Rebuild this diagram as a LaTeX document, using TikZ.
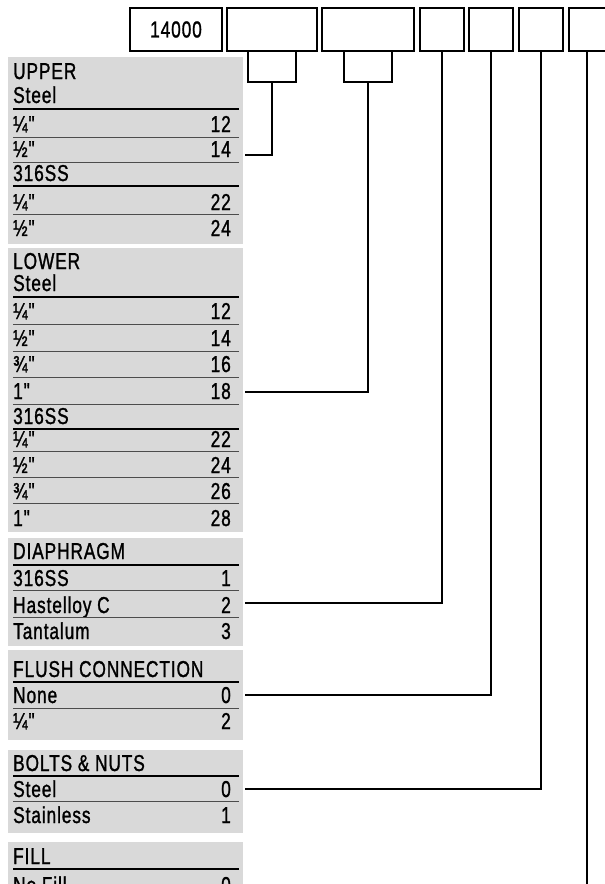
\documentclass[tikz,border=0pt]{standalone}
\usepackage{fontspec}
\setmainfont{Liberation Sans}[FakeStretch=0.75,LetterSpace=4,FakeBold=1.2,Ligatures=TeXOff]
\newcommand\pfont{\fontsize{23}{26}\selectfont}
\newcommand\optrow[4]{%
  \node[lbl] (#1l) at (13,#4) {#2};
  \node[num] (#1n) at (231,#4) {#3};}
\tikzset{
  lbl/.style={anchor=base west, inner sep=0pt, font=\pfont},
  num/.style={anchor=base east, inner sep=0pt, font=\pfont},
  thickrule/.style={line width=2pt},
  thinrule/.style={line width=1pt, black!70},
  panel/.style={fill=black!15, draw=none},
  codebox/.style={draw, line width=2pt, fill=white, inner sep=0pt, font=\pfont, minimum height=43pt},
  subbox/.style={draw, line width=2pt, inner sep=0pt, minimum width=48pt, minimum height=31pt},
  wire/.style={line width=2pt}
}
\begin{document}
\begin{tikzpicture}[x=1pt,y=-1pt]
\useasboundingbox (0,0) rectangle (605,884);
\clip (0,0) rectangle (605,884);
% panels
\fill[panel] (8,57) rectangle (243,244);
\fill[panel] (8,248) rectangle (243,532);
\fill[panel] (8,538) rectangle (243,646);
\fill[panel] (8,650) rectangle (243,740);
\fill[panel] (8,750) rectangle (243,833);
\fill[panel] (8,842) rectangle (243,910);
% UPPER
\node[lbl] (upt) at (13,79) {UPPER};
\node[lbl] (ups) at (13,103) {Steel};
\draw[thickrule] (13,109) -- (239,109);
\optrow{ua}{¼"}{12}{132}
\draw[thinrule] (13,137) -- (239,137);
\optrow{ub}{½"}{14}{157}
\draw[thinrule] (13,162) -- (239,162);
\node[lbl] (uss) at (13,181) {316SS};
\draw[thickrule] (13,186) -- (239,186);
\optrow{uc}{¼"}{22}{210}
\draw[thinrule] (13,214) -- (239,214);
\optrow{ud}{½"}{24}{236}
% LOWER
\node[lbl] (lot) at (13,269) {LOWER};
\node[lbl] (los) at (13,291) {Steel};
\draw[thickrule] (13,297) -- (239,297);
\optrow{la}{¼"}{12}{319}
\draw[thinrule] (13,324) -- (239,324);
\optrow{lb}{½"}{14}{346}
\draw[thinrule] (13,351) -- (239,351);
\optrow{lc}{¾"}{16}{372}
\draw[thinrule] (13,377) -- (239,377);
\optrow{ld}{1"}{18}{399}
\draw[thinrule] (13,404) -- (239,404);
\node[lbl] (lss) at (13,424) {316SS};
\draw[thickrule] (13,429) -- (239,429);
\optrow{le}{¼"}{22}{447}
\draw[thinrule] (13,451) -- (239,451);
\optrow{lf}{½"}{24}{473}
\draw[thinrule] (13,477) -- (239,477);
\optrow{lg}{¾"}{26}{499}
\draw[thinrule] (13,503) -- (239,503);
\optrow{lh}{1"}{28}{526}
% DIAPHRAGM
\node[lbl] (dit) at (13,559) {DIAPHRAGM};
\draw[thickrule] (13,565) -- (239,565);
\optrow{da}{316SS}{1}{586}
\draw[thinrule] (13,590) -- (239,590);
\optrow{db}{Hastelloy C}{2}{613}
\draw[thinrule] (13,617) -- (239,617);
\optrow{dc}{Tantalum}{3}{639}
% FLUSH
\node[lbl] (flt) at (13,677) {FLUSH CONNECTION};
\draw[thickrule] (13,682) -- (239,682);
\optrow{fa}{None}{0}{703}
\draw[thinrule] (13,708) -- (239,708);
\optrow{fb}{¼"}{2}{729}
% BOLTS
\node[lbl] (bot) at (13,771) {BOLTS \& NUTS};
\draw[thickrule] (13,776) -- (239,776);
\optrow{ba}{Steel}{0}{797}
\draw[thinrule] (13,801) -- (239,801);
\optrow{bb}{Stainless}{1}{823}
% FILL
\node[lbl] (fit) at (13,864) {FILL};
\draw[thickrule] (13,869) -- (239,869);
\optrow{ia}{No Fill}{0}{893}
% code boxes
\node[subbox] (s2) at (272,66.5) {};
\node[subbox] (s3) at (368,66.5) {};
\node[codebox, minimum width=92pt] (b1) at (176,29.5) {14000};
\node[codebox, minimum width=90pt] (b2) at (272,29.5) {};
\node[codebox, minimum width=92pt] (b3) at (368,29.5) {};
\node[codebox, minimum width=44pt] (b4) at (442,29.5) {};
\node[codebox, minimum width=44pt] (b5) at (491,29.5) {};
\node[codebox, minimum width=44pt] (b6) at (541,29.5) {};
\node[codebox, minimum width=44pt] (b7) at (591,29.5) {};
% connector ends
\coordinate (e2) at (245,155);
\coordinate (e3) at (245,392);
\coordinate (e4) at (245,603);
\coordinate (e5) at (245,695);
\coordinate (e6) at (245,789);
\coordinate (e7) at (587,900);
\draw[wire] (s2.south) |- (e2);
\draw[wire] (s3.south) |- (e3);
\draw[wire] (b4.south) |- (e4);
\draw[wire] (b5.south) |- (e5);
\draw[wire] (b6.south) |- (e6);
\draw[wire] (b7.south -| e7) -- (e7);
\end{tikzpicture}
\end{document}
